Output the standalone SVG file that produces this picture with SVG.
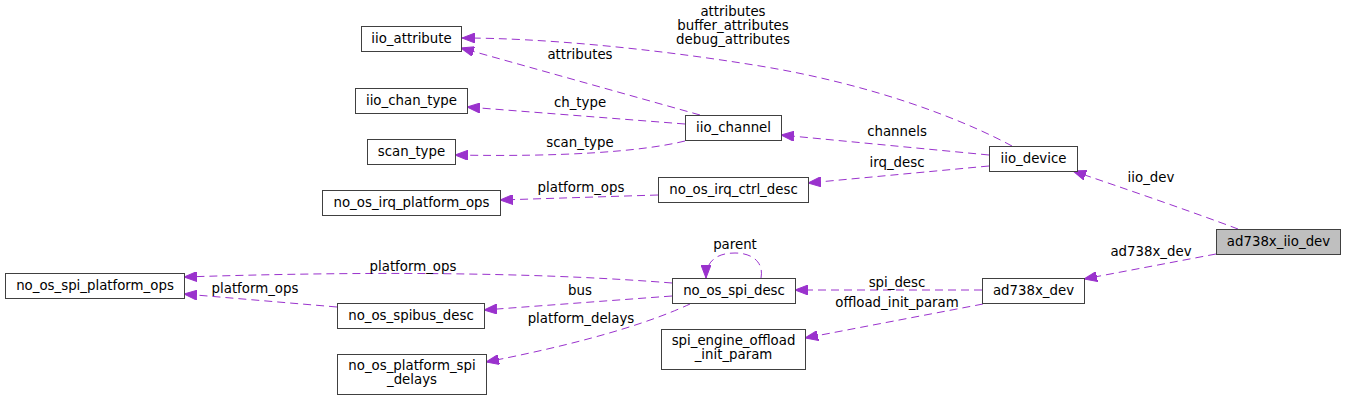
<svg xmlns="http://www.w3.org/2000/svg" width="1345" height="401" viewBox="0 0 1345 401">
<style>
  .node rect { fill: #ffffff; stroke: #404040; stroke-width: 1; }
  .node.root rect { fill: #bfbfbf; }
  text { font-family: "DejaVu Sans", "Liberation Sans", sans-serif; font-size: 13.33px; fill: #000000; text-anchor: middle; }
  .edge { fill: none; stroke: #9a32cd; stroke-width: 1; stroke-dasharray: 8,5; marker-end: url(#arrow); }
</style>
<defs>
  <marker id="arrow" viewBox="0 0 13 10" refX="13" refY="5" markerWidth="13" markerHeight="10" markerUnits="userSpaceOnUse" orient="auto">
    <path d="M0,0 L13,5 L0,10 z" fill="#9a32cd" stroke="#9a32cd" stroke-width="1"/>
  </marker>
</defs>
<rect width="1345" height="401" fill="#ffffff"/>
<g id="connectors">
  <path class="edge" d="M1238,229 C1190,211 1120,187 1073,171"/>
  <text x="1151" y="182">iio_dev</text>
  <path class="edge" d="M1216,254 L1084,279"/>
  <text x="1151" y="256">ad738x_dev</text>
  <path class="edge" d="M1012,146 C960,118 870,84 760,66 C650,48 540,38 462,38"/>
  <text x="733" y="16">attributes</text>
  <text x="733" y="30">buffer_attributes</text>
  <text x="733" y="44">debug_attributes</text>
  <path class="edge" d="M989,155 L781,135"/>
  <text x="897" y="136">channels</text>
  <path class="edge" d="M989,166 L808,183"/>
  <text x="897" y="167">irq_desc</text>
  <path class="edge" d="M700,115 L461,48"/>
  <text x="580" y="59">attributes</text>
  <path class="edge" d="M685,124 L467,107"/>
  <text x="580" y="107">ch_type</text>
  <path class="edge" d="M685,141 C640,152 560,157 455,155"/>
  <text x="580" y="147">scan_type</text>
  <path class="edge" d="M658,195 L500,200"/>
  <text x="581" y="192">platform_ops</text>
  <path class="edge" d="M761,278 C764,262 752,253 735,253 C718,253 706,260 706,278"/>
  <text x="735" y="249">parent</text>
  <path class="edge" d="M672,283 C560,274 400,270 184,277"/>
  <text x="413" y="271">platform_ops</text>
  <path class="edge" d="M672,296 L484,310"/>
  <text x="580" y="295">bus</text>
  <path class="edge" d="M690,304 C660,318 600,340 486,362"/>
  <text x="581" y="323">platform_delays</text>
  <path class="edge" d="M337,307 L184,294"/>
  <text x="255" y="293">platform_ops</text>
  <path class="edge" d="M982,290 L795,290"/>
  <text x="897" y="287">spi_desc</text>
  <path class="edge" d="M983,304 L805,338"/>
  <text x="897" y="307">offload_init_param</text>
</g>
<g id="ad738x_iio_dev" class="node root"><rect x="1216.5" y="229.5" width="124" height="25"/><text x="1278.5" y="246">ad738x_iio_dev</text></g>
<g id="iio_device" class="node"><rect x="989.5" y="146.5" width="88" height="25"/><text x="1033.5" y="163">iio_device</text></g>
<g id="ad738x_dev" class="node"><rect x="982.5" y="278.5" width="102" height="25"/><text x="1033.5" y="295">ad738x_dev</text></g>
<g id="iio_attribute" class="node"><rect x="361.5" y="26.5" width="100" height="25"/><text x="411.5" y="43">iio_attribute</text></g>
<g id="iio_channel" class="node"><rect x="685.5" y="115.5" width="96" height="25"/><text x="733.5" y="132">iio_channel</text></g>
<g id="no_os_irq_ctrl_desc" class="node"><rect x="658.5" y="177.5" width="150" height="25"/><text x="733.5" y="194">no_os_irq_ctrl_desc</text></g>
<g id="iio_chan_type" class="node"><rect x="355.5" y="88.5" width="112" height="25"/><text x="411.5" y="105">iio_chan_type</text></g>
<g id="scan_type" class="node"><rect x="367.5" y="139.5" width="88" height="25"/><text x="411.5" y="156">scan_type</text></g>
<g id="no_os_irq_platform_ops" class="node"><rect x="322.5" y="190.5" width="178" height="25"/><text x="411.5" y="207">no_os_irq_platform_ops</text></g>
<g id="no_os_spi_desc" class="node"><rect x="672.5" y="278.5" width="123" height="25"/><text x="734" y="295">no_os_spi_desc</text></g>
<g id="spi_engine_offload_init_param" class="node"><rect x="661.5" y="329.5" width="144" height="40"/><text x="733.5" y="345">spi_engine_offload</text><text x="733.5" y="359">_init_param</text></g>
<g id="no_os_spi_platform_ops" class="node"><rect x="5.5" y="273.5" width="179" height="25"/><text x="95" y="290">no_os_spi_platform_ops</text></g>
<g id="no_os_spibus_desc" class="node"><rect x="337.5" y="303.5" width="147" height="25"/><text x="411" y="320">no_os_spibus_desc</text></g>
<g id="no_os_platform_spi_delays" class="node"><rect x="337.5" y="354.5" width="149" height="40"/><text x="412" y="370">no_os_platform_spi</text><text x="412" y="384">_delays</text></g>
</svg>
